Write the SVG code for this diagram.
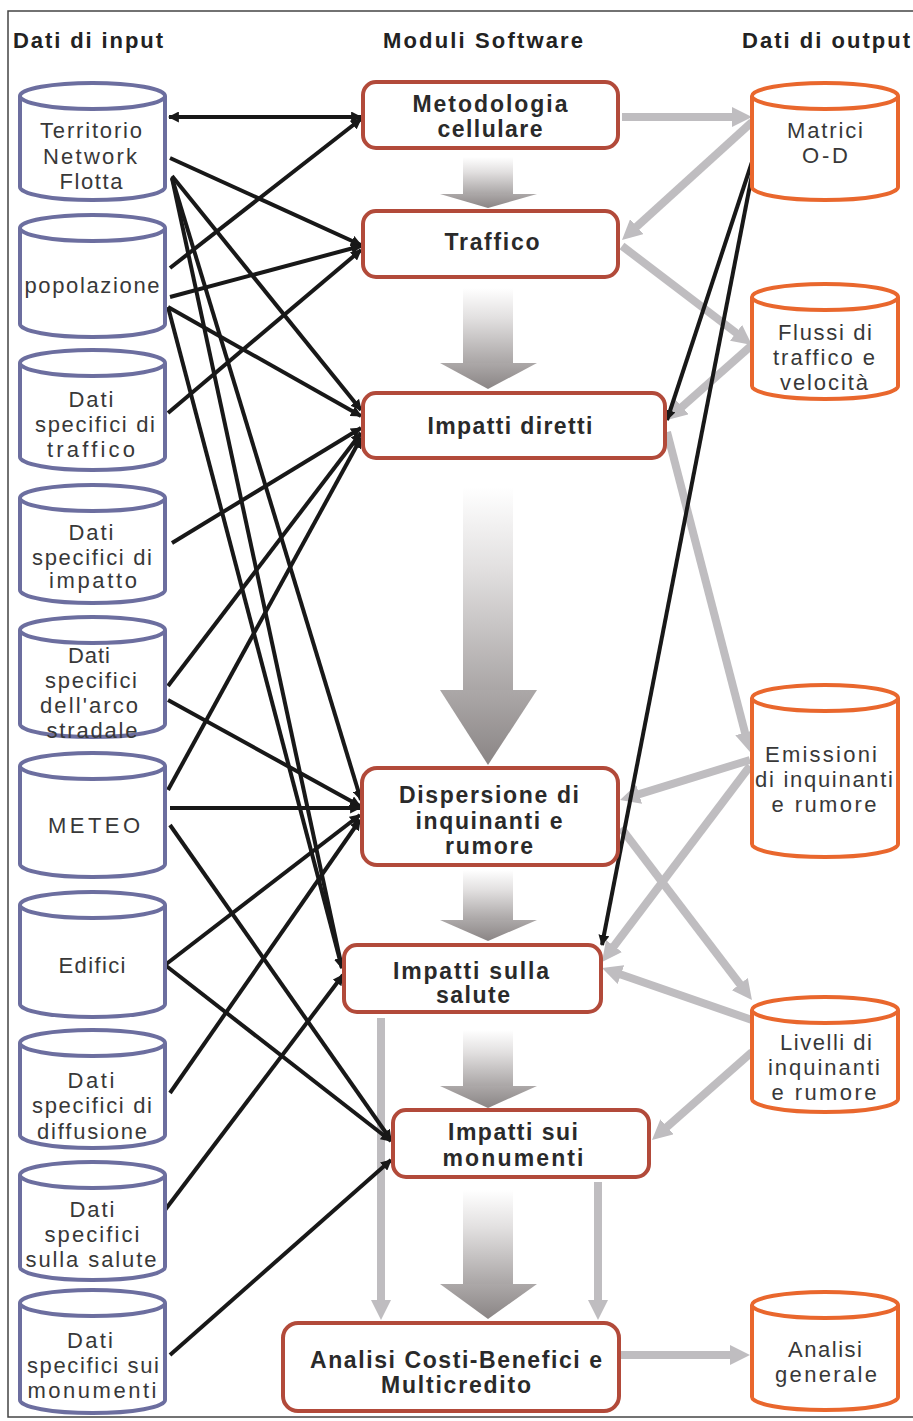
<svg xmlns="http://www.w3.org/2000/svg" width="913" height="1421" viewBox="0 0 913 1421">
<style>
.hdr{font-family:"Liberation Sans",Arial,sans-serif;font-weight:bold;font-size:22px;fill:#222;}
.bt{font-family:"Liberation Sans",Arial,sans-serif;font-weight:bold;font-size:23px;fill:#2a2a2a;text-anchor:middle;}
.ct{font-family:"Liberation Sans",Arial,sans-serif;font-size:22px;fill:#383838;text-anchor:middle;}
.cin{fill:#fff;stroke:#6c6e9f;stroke-width:4;}
.cout{fill:#fff;stroke:#e9672d;stroke-width:4;}
.box{fill:#fff;stroke:#b24a3a;stroke-width:4;}
.g{fill:none;stroke:#bfbdc0;stroke-width:8;marker-end:url(#gh);}
.b{fill:none;stroke:#181818;stroke-width:4;marker-end:url(#bh);}
.sh{fill:url(#fade);}
.hd{fill:url(#headg);}
</style>
<defs>
<marker id="gh" viewBox="0 0 10 10" refX="5" refY="5" markerWidth="20" markerHeight="20" markerUnits="userSpaceOnUse" orient="auto-start-reverse"><path d="M0,0 L10,5 L0,10 z" fill="#bfbdc0"/></marker>
<marker id="bh" viewBox="0 0 10 10" refX="9" refY="5" markerWidth="11" markerHeight="11" markerUnits="userSpaceOnUse" orient="auto-start-reverse"><path d="M0,0 L10,5 L0,10 z" fill="#181818"/></marker>
<linearGradient id="fade" x1="0" y1="0" x2="0" y2="1"><stop offset="0" stop-color="#ffffff"/><stop offset="0.4" stop-color="#e2e0e0"/><stop offset="1" stop-color="#aaa6a6"/></linearGradient>
<linearGradient id="headg" x1="0" y1="0" x2="0" y2="1"><stop offset="0" stop-color="#aca8a8"/><stop offset="1" stop-color="#8a8585"/></linearGradient>
</defs>
<rect x="0" y="0" width="913" height="1421" fill="#fff"/>
<rect x="8" y="11" width="912" height="1406" fill="none" stroke="#444" stroke-width="1.5"/>

<g id="headers">
<text class="hdr" x="13" y="48" textLength="150" lengthAdjust="spacing">Dati di input</text>
<text class="hdr" x="383" y="48" textLength="200" lengthAdjust="spacing">Moduli Software</text>
<text class="hdr" x="742" y="48" textLength="168" lengthAdjust="spacing">Dati di output</text>
</g>

<g id="flow-arrows">
<polygon class="sh" points="463,157 513,157 513,194 463,194"/><polygon class="hd" points="440,194 537,194 488,208"/>
<polygon class="sh" points="463,288 513,288 513,363 463,363"/><polygon class="hd" points="440,363 537,363 488,389"/>
<polygon class="sh" points="463,487 513,487 513,690 463,690"/><polygon class="hd" points="440,690 537,690 488,765"/>
<polygon class="sh" points="463,870 513,870 513,920 463,920"/><polygon class="hd" points="440,920 537,920 488,941"/>
<polygon class="sh" points="463,1030 513,1030 513,1086 463,1086"/><polygon class="hd" points="440,1086 537,1086 488,1108"/>
<polygon class="sh" points="463,1190 513,1190 513,1284 463,1284"/><polygon class="hd" points="440,1284 537,1284 488,1319"/>
</g>

<g id="connectors">
<path class="g" d="M622,117 L742,117"/>
<path class="g" d="M752,122 L629.4,233.3"/>
<path class="g" d="M622,246 L744,338.9"/>
<path class="g" d="M752,345 L674.5,413.4"/>
<path class="g" d="M667,432 L747.5,742.3"/>
<path class="g" d="M750,760 L629.6,797.1"/>
<path class="g" d="M750,766 L608,954"/>
<path class="g" d="M621,828 L745.9,992"/>
<path class="g" d="M752,1020 L611.5,971.3"/>
<path class="g" d="M752,1052 L659.5,1133.4"/>
<path class="g" d="M381,1018 L381,1310"/>
<path class="g" d="M598,1182 L598,1310"/>
<path class="g" d="M620,1355 L740,1355"/>

<path class="b" d="M169,117 L361,117" marker-start="url(#bh)"/>
<path class="b" d="M170,158 L361,245"/>
<path class="b" d="M172,176 L361,410"/>
<path class="b" d="M172,178 L361,800"/>
<path class="b" d="M172,178 L342,968"/>
<path class="b" d="M170,268 L361,119"/>
<path class="b" d="M170,297 L361,246"/>
<path class="b" d="M168,307 L361,416"/>
<path class="b" d="M168,307 L342,968"/>
<path class="b" d="M168,413 L361,250"/>
<path class="b" d="M172,543 L361,428"/>
<path class="b" d="M168,686 L361,433"/>
<path class="b" d="M168,700 L360,806"/>
<path class="b" d="M168,790 L361,438"/>
<path class="b" d="M170,808 L360,808"/>
<path class="b" d="M170,825 L391,1140"/>
<path class="b" d="M165,965 L360,815"/>
<path class="b" d="M165,965 L391,1141"/>
<path class="b" d="M170,1093 L360,820"/>
<path class="b" d="M165,1210 L343,975"/>
<path class="b" d="M170,1355 L391,1160"/>
<path class="b" d="M752,162 L667,420"/>
<path class="b" d="M752,175 L602,945"/>
</g>

<g id="box-metodologia"><rect class="box" x="363" y="82" width="255" height="66" rx="13"/>
<text class="bt" x="490" y="112" textLength="155" lengthAdjust="spacing">Metodologia</text>
<text class="bt" x="490" y="137" textLength="105" lengthAdjust="spacing">cellulare</text></g>
<g id="box-traffico"><rect class="box" x="363" y="211" width="255" height="66" rx="13"/>
<text class="bt" x="492" y="250" textLength="95" lengthAdjust="spacing">Traffico</text></g>
<g id="box-impatti-diretti"><rect class="box" x="363" y="393" width="302" height="65" rx="13"/>
<text class="bt" x="510" y="434" textLength="165" lengthAdjust="spacing">Impatti diretti</text></g>
<g id="box-dispersione"><rect class="box" x="362" y="768" width="256" height="97" rx="15"/>
<text class="bt" x="489" y="803" textLength="180" lengthAdjust="spacing">Dispersione di</text>
<text class="bt" x="489" y="829" textLength="147" lengthAdjust="spacing">inquinanti e</text>
<text class="bt" x="489" y="854" textLength="88" lengthAdjust="spacing">rumore</text></g>
<g id="box-salute"><rect class="box" x="344" y="945" width="257" height="67" rx="13"/>
<text class="bt" x="471" y="979" textLength="156" lengthAdjust="spacing">Impatti sulla</text>
<text class="bt" x="473" y="1003" textLength="74" lengthAdjust="spacing">salute</text></g>
<g id="box-monumenti"><rect class="box" x="393" y="1110" width="256" height="67" rx="13"/>
<text class="bt" x="513" y="1140" textLength="130" lengthAdjust="spacing">Impatti sui</text>
<text class="bt" x="513" y="1166" textLength="141" lengthAdjust="spacing">monumenti</text></g>
<g id="box-analisi"><rect class="box" x="283" y="1323" width="336" height="88" rx="15"/>
<text class="bt" x="456" y="1368" textLength="292" lengthAdjust="spacing">Analisi Costi-Benefici e</text>
<text class="bt" x="456" y="1393" textLength="150" lengthAdjust="spacing">Multicredito</text></g>

<g id="in-territorio"><path class="cin" d="M20,96 V187 A72.5,13 0 0 0 165,187 V96"/><ellipse class="cin" cx="92.5" cy="96" rx="72.5" ry="13"/>
<text class="ct" x="91" y="138" textLength="102" lengthAdjust="spacing">Territorio</text>
<text class="ct" x="90" y="164" textLength="94" lengthAdjust="spacing">Network</text>
<text class="ct" x="91" y="189" textLength="63" lengthAdjust="spacing">Flotta</text></g>
<g id="in-popolazione"><path class="cin" d="M20,228 V324 A72.5,13 0 0 0 165,324 V228"/><ellipse class="cin" cx="92.5" cy="228" rx="72.5" ry="13"/>
<text class="ct" x="92" y="293" textLength="135" lengthAdjust="spacing">popolazione</text></g>
<g id="in-traffico"><path class="cin" d="M20,363 V457 A72.5,13 0 0 0 165,457 V363"/><ellipse class="cin" cx="92.5" cy="363" rx="72.5" ry="13"/>
<text class="ct" x="91" y="407" textLength="45" lengthAdjust="spacing">Dati</text>
<text class="ct" x="95" y="432" textLength="120" lengthAdjust="spacing">specifici di</text>
<text class="ct" x="91" y="457" textLength="88" lengthAdjust="spacing">traffico</text></g>
<g id="in-impatto"><path class="cin" d="M20,498 V590 A72.5,13 0 0 0 165,590 V498"/><ellipse class="cin" cx="92.5" cy="498" rx="72.5" ry="13"/>
<text class="ct" x="91" y="540" textLength="45" lengthAdjust="spacing">Dati</text>
<text class="ct" x="92" y="565" textLength="120" lengthAdjust="spacing">specifici di</text>
<text class="ct" x="93" y="588" textLength="88" lengthAdjust="spacing">impatto</text></g>
<g id="in-arco"><path class="cin" d="M20,630 V724 A72.5,13 0 0 0 165,724 V630"/><ellipse class="cin" cx="92.5" cy="630" rx="72.5" ry="13"/>
<text class="ct" x="89" y="663" textLength="42" lengthAdjust="spacing">Dati</text>
<text class="ct" x="91" y="688" textLength="92" lengthAdjust="spacing">specifici</text>
<text class="ct" x="89" y="713" textLength="98" lengthAdjust="spacing">dell'arco</text>
<text class="ct" x="92" y="738" textLength="91" lengthAdjust="spacing">stradale</text></g>
<g id="in-meteo"><path class="cin" d="M20,766 V864 A72.5,13 0 0 0 165,864 V766"/><ellipse class="cin" cx="92.5" cy="766" rx="72.5" ry="13"/>
<text class="ct" x="94" y="833" textLength="92" lengthAdjust="spacing">METEO</text></g>
<g id="in-edifici"><path class="cin" d="M20,905 V1004 A72.5,13 0 0 0 165,1004 V905"/><ellipse class="cin" cx="92.5" cy="905" rx="72.5" ry="13"/>
<text class="ct" x="92" y="973" textLength="67" lengthAdjust="spacing">Edifici</text></g>
<g id="in-diffusione"><path class="cin" d="M20,1043 V1135 A72.5,13 0 0 0 165,1135 V1043"/><ellipse class="cin" cx="92.5" cy="1043" rx="72.5" ry="13"/>
<text class="ct" x="91" y="1088" textLength="47" lengthAdjust="spacing">Dati</text>
<text class="ct" x="92" y="1113" textLength="120" lengthAdjust="spacing">specifici di</text>
<text class="ct" x="92" y="1139" textLength="110" lengthAdjust="spacing">diffusione</text></g>
<g id="in-salute"><path class="cin" d="M20,1175 V1267 A72.5,13 0 0 0 165,1267 V1175"/><ellipse class="cin" cx="92.5" cy="1175" rx="72.5" ry="13"/>
<text class="ct" x="92" y="1217" textLength="45" lengthAdjust="spacing">Dati</text>
<text class="ct" x="92" y="1242" textLength="95" lengthAdjust="spacing">specifici</text>
<text class="ct" x="91" y="1267" textLength="131" lengthAdjust="spacing">sulla salute</text></g>
<g id="in-monumenti"><path class="cin" d="M20,1303 V1400 A72.5,13 0 0 0 165,1400 V1303"/><ellipse class="cin" cx="92.5" cy="1303" rx="72.5" ry="13"/>
<text class="ct" x="90" y="1348" textLength="46" lengthAdjust="spacing">Dati</text>
<text class="ct" x="93" y="1373" textLength="132" lengthAdjust="spacing">specifici sui</text>
<text class="ct" x="92" y="1398" textLength="129" lengthAdjust="spacing">monumenti</text></g>

<g id="out-matrici"><path class="cout" d="M752,96 V187 A73,13 0 0 0 898,187 V96"/><ellipse class="cout" cx="825" cy="96" rx="73" ry="13"/>
<text class="ct" x="825" y="138" textLength="76" lengthAdjust="spacing">Matrici</text>
<text class="ct" x="825" y="163" textLength="46" lengthAdjust="spacing">O-D</text></g>
<g id="out-flussi"><path class="cout" d="M752,297 V386 A73,13 0 0 0 898,386 V297"/><ellipse class="cout" cx="825" cy="297" rx="73" ry="13"/>
<text class="ct" x="825" y="340" textLength="94" lengthAdjust="spacing">Flussi di</text>
<text class="ct" x="824" y="365" textLength="102" lengthAdjust="spacing">traffico e</text>
<text class="ct" x="824" y="390" textLength="88" lengthAdjust="spacing">velocità</text></g>
<g id="out-emissioni"><path class="cout" d="M752,698 V844 A73,13 0 0 0 898,844 V698"/><ellipse class="cout" cx="825" cy="698" rx="73" ry="13"/>
<text class="ct" x="821" y="762" textLength="112" lengthAdjust="spacing">Emissioni</text>
<text class="ct" x="824" y="787" textLength="138" lengthAdjust="spacing">di inquinanti</text>
<text class="ct" x="824" y="812" textLength="105" lengthAdjust="spacing">e rumore</text></g>
<g id="out-livelli"><path class="cout" d="M752,1010 V1099 A73,13 0 0 0 898,1099 V1010"/><ellipse class="cout" cx="825" cy="1010" rx="73" ry="13"/>
<text class="ct" x="826" y="1050" textLength="92" lengthAdjust="spacing">Livelli di</text>
<text class="ct" x="824" y="1075" textLength="112" lengthAdjust="spacing">inquinanti</text>
<text class="ct" x="824" y="1100" textLength="105" lengthAdjust="spacing">e rumore</text></g>
<g id="out-analisi"><path class="cout" d="M752,1305 V1397 A73,13 0 0 0 898,1397 V1305"/><ellipse class="cout" cx="825" cy="1305" rx="73" ry="13"/>
<text class="ct" x="825" y="1357" textLength="74" lengthAdjust="spacing">Analisi</text>
<text class="ct" x="826" y="1382" textLength="102" lengthAdjust="spacing">generale</text></g>
</svg>
